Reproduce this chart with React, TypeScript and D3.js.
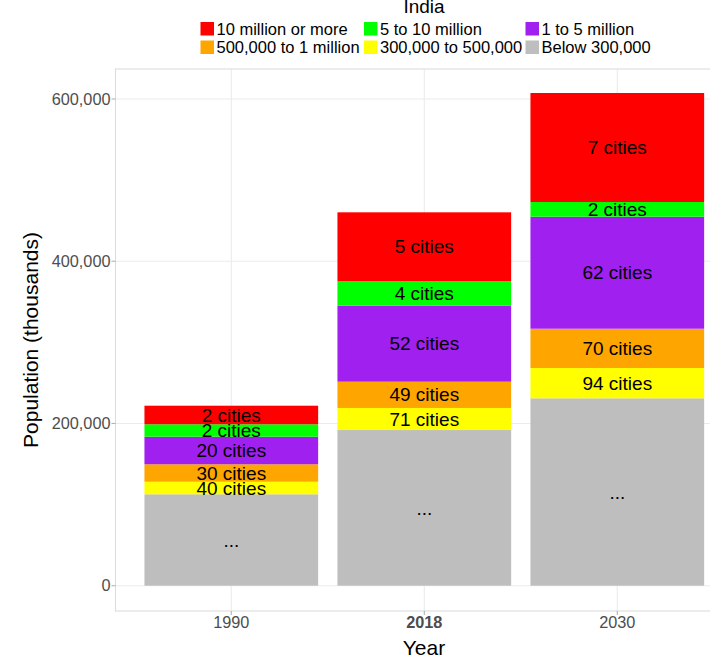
import React from "react";
import * as d3 from "d3";

const years = ["1990", "2018", "2030"];
const groups = [
  "Below 300,000",
  "300,000 to 500,000",
  "500,000 to 1 million",
  "1 to 5 million",
  "5 to 10 million",
  "10 million or more",
];
const colors = ["#BEBEBE", "#FFFF00", "#FFA500", "#A020F0", "#00FF00", "#FF0000"];
// population (thousands) per group, per year
const below300k = [112.7, 191.9, 231.0];
const from300kTo500k = [15.5, 27.2, 37.4];
const from500kTo1m = [21.5, 32.4, 48.4];
const from1mTo5m = [34.0, 93.7, 138.1];
const from5mTo10m = [15.3, 30.0, 18.1];
const over10m = [22.9, 85.1, 134.4];
const labels1990 = ["...", "40 cities", "30 cities", "20 cities", "2 cities", "2 cities"];
const labels2018 = ["...", "71 cities", "49 cities", "52 cities", "4 cities", "5 cities"];
const labels2030 = ["...", "94 cities", "70 cities", "62 cities", "2 cities", "7 cities"];
const yTicks = [0, 200000, 400000, 600000];
const legendOrder = [5, 4, 3, 2, 1, 0];

const FONT = "'Liberation Sans', Arial, Helvetica, sans-serif";

export default function App() {
  const W = 710;
  const H = 658;
  const left = 115.5;
  const top = 69;
  const bottom = 611;
  const xStep = 193;
  const right = left + xStep * 3.2;

  const values = [below300k, from300kTo500k, from500kTo1m, from1mTo5m, from5mTo10m, over10m];
  const labels = [labels1990, labels2018, labels2030];
  const rows = years.map((yr, i) => {
    const r: any = { year: yr };
    groups.forEach((g, j) => (r[g] = values[j][i] * 1000));
    return r;
  });
  const stack = d3.stack<any>().keys(groups)(rows);

  // ggplot-like discrete axis: centers at left + 0.6 step, width 0.9 step
  const xc = (yr: string) => left + (years.indexOf(yr) + 0.6) * xStep;
  const bw = 0.9 * xStep;
  const y = d3.scaleLinear().domain([0, 600000]).range([585.7, 99]);
  const fmt = d3.format(",");

  const gridColor = "#EBEBEB";
  const legendCols = [200.5, 364, 525.5];
  const legendRows = [22, 40.5];
  const key = 13.5;

  return (
    <svg
      width={W}
      height={H}
      style={{ position: "absolute", left: 0, top: 0, background: "#fff" }}
      fontFamily={FONT}
    >
      <defs>
        <clipPath id="panel">
          <rect x={left} y={top} width={right - left} height={bottom - top} />
        </clipPath>
      </defs>
      {/* grid */}
      <g clipPath="url(#panel)">
        {yTicks.map((t) => (
          <line key={t} x1={left} x2={right} y1={y(t)} y2={y(t)} stroke={gridColor} strokeWidth={1.1} />
        ))}
        {years.map((yr) => (
          <line key={yr} x1={xc(yr)} x2={xc(yr)} y1={top} y2={bottom} stroke={gridColor} strokeWidth={1.1} />
        ))}
      </g>
      {/* bars */}
      {stack.map((layer, j) => (
        <g key={groups[j]} fill={colors[j]}>
          {layer.map((d, i) => (
            <rect
              key={i}
              x={xc(years[i]) - bw / 2}
              width={bw}
              y={y(d[1])}
              height={y(d[0]) - y(d[1])}
            />
          ))}
        </g>
      ))}
      {/* labels */}
      {stack.map((layer, j) => (
        <g key={"l" + j} fontSize={19} fill="#000" textAnchor="middle">
          {layer.map((d, i) => (
            <text key={i} x={xc(years[i])} y={y((d[0] + d[1]) / 2)} dy="0.35em">
              {labels[i][j]}
            </text>
          ))}
        </g>
      ))}
      {/* panel border */}
      <rect x={left} y={top} width={right - left} height={bottom - top} fill="none" stroke="#DCDCDC" strokeWidth={1.1} />
      {/* y axis */}
      {yTicks.map((t) => (
        <g key={t}>
          <line x1={left - 4} x2={left} y1={y(t)} y2={y(t)} stroke="#B3B3B3" strokeWidth={1.1} />
          <text x={left - 5} y={y(t)} dy="0.35em" textAnchor="end" fontSize={16.3} fill="#4D4D4D">
            {fmt(t)}
          </text>
        </g>
      ))}
      {/* x axis */}
      {years.map((yr) => (
        <g key={yr}>
          <line x1={xc(yr)} x2={xc(yr)} y1={bottom} y2={bottom + 4} stroke="#B3B3B3" strokeWidth={1.1} />
          <text
            x={xc(yr)}
            y={628}
            textAnchor="middle"
            fontSize={16.3}
            fill="#4D4D4D"
            fontWeight={yr === "2018" ? "bold" : "normal"}
          >
            {yr}
          </text>
        </g>
      ))}
      <text x={424} y={655} textAnchor="middle" fontSize={21} fill="#000">
        Year
      </text>
      <text
        transform={`translate(38,340) rotate(-90)`}
        textAnchor="middle"
        fontSize={21}
        fill="#000"
      >
        Population (thousands)
      </text>
      {/* legend */}
      <text x={424} y={13} textAnchor="middle" fontSize={19} fill="#000">
        India
      </text>
      {legendOrder.map((gi, k) => {
        const col = k % 3;
        const row = Math.floor(k / 3);
        const lx = legendCols[col];
        const ly = legendRows[row];
        return (
          <g key={groups[gi]}>
            <rect x={lx} y={ly} width={key} height={key} fill={colors[gi]} />
            <text x={lx + key + 2.5} y={ly + key / 2} dy="0.36em" fontSize={16.5} fill="#000">
              {groups[gi]}
            </text>
          </g>
        );
      })}
    </svg>
  );
}
